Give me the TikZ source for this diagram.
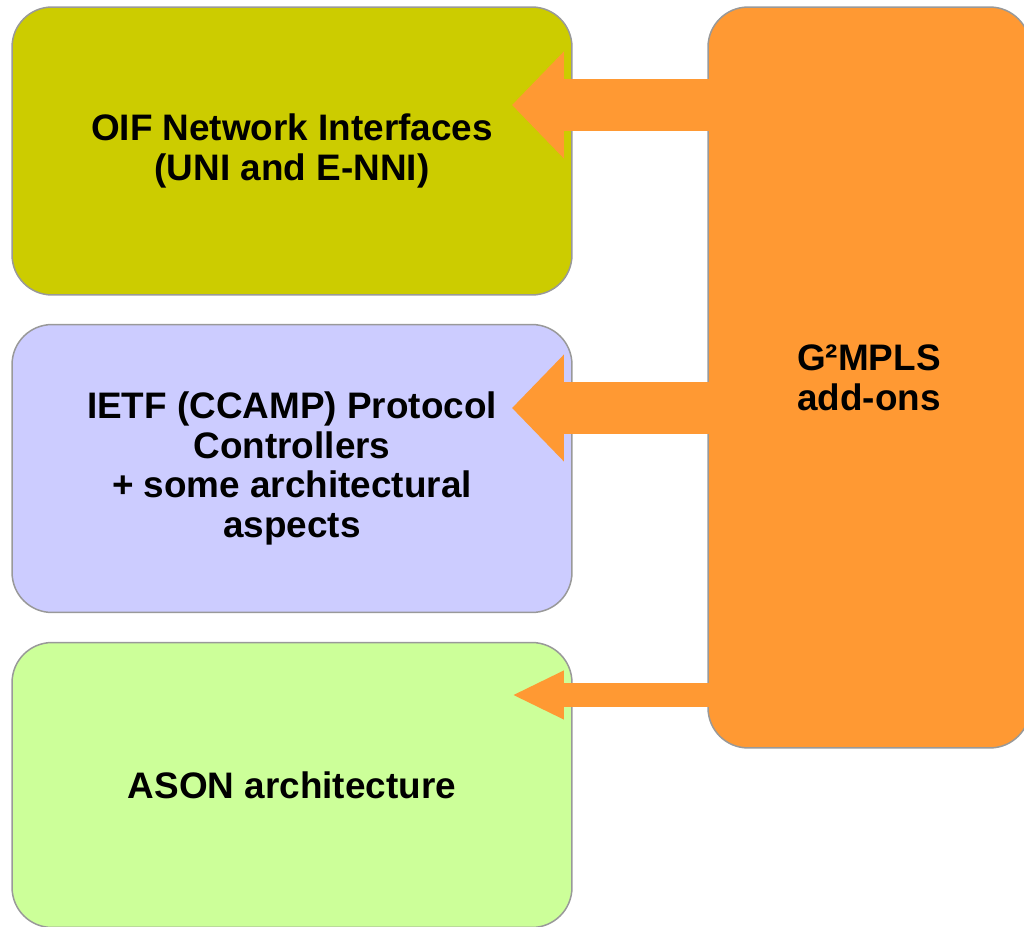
\documentclass[tikz,border=0pt]{standalone}
\usepackage{xcolor}
\usepackage{fontspec}
\setmainfont{Liberation Sans}
\usetikzlibrary{arrows.meta}
\definecolor{oifcolor}{HTML}{CCCC00}
\definecolor{ietfcolor}{HTML}{CCCCFF}
\definecolor{asoncolor}{HTML}{CCFF99}
\definecolor{addoncolor}{HTML}{FF9933}
\definecolor{edgecolor}{HTML}{999999}
\begin{document}
\begin{tikzpicture}[x=0.02cm,y=-0.02cm,
    box/.style={draw=edgecolor,line width=0.03cm,rounded corners=0.8cm,align=center,inner sep=0pt,
        minimum width=11.2cm,minimum height=5.76cm,font=\fontsize{21}{22.7}\selectfont\bfseries},
    bigarrow/.style={draw=addoncolor,line width=1.05cm,shorten <=-0.1cm,
        -{Triangle[length=1.04cm,width=2.08cm]}},
    smallarrow/.style={draw=addoncolor,line width=0.48cm,shorten <=-0.1cm,
        -{Triangle[length=1.04cm,width=0.9cm]}}]
            %画布大小
            \useasboundingbox (0,0) rectangle (1024,926);
            \clip (0,0) rectangle (1024,926);
            %绘制左侧三个方框
            \node[box,fill=oifcolor] (oif) at (292,151) {OIF Network Interfaces\\(UNI and E-NNI)};
            \node[box,fill=ietfcolor] (ietf) at (292,468.5) {IETF (CCAMP) Protocol\\Controllers\\+ some architectural\\aspects};
            \node[box,fill=asoncolor,minimum height=5.7cm] (ason) at (292,785) {ASON architecture};
            %绘制右侧方框
            \node[box,fill=addoncolor,minimum width=6.44cm,minimum height=14.82cm] (g2mpls) at (869,377.5) {G²MPLS\\add-ons};
            %箭头终点
            \coordinate (t1) at (512,105);
            \coordinate (t2) at (512,408);
            \coordinate (t3) at (512,695);
            %绘制箭头
            \foreach \t in {t1,t2}{\draw[bigarrow] (g2mpls.west |- \t) -- (\t);}
            \draw[smallarrow] (g2mpls.west |- t3) -- (t3);
        \end{tikzpicture}
\end{document}
